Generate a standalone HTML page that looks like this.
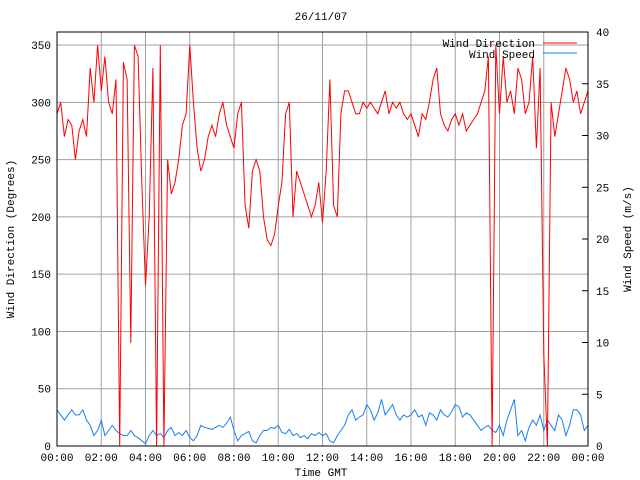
<!DOCTYPE html>
<html><head><meta charset="utf-8"><style>
body{margin:0;background:#fff}
svg{display:block;font-family:"Liberation Mono","DejaVu Sans Mono",monospace;font-size:11px}
</style></head><body>
<svg id="chart" width="640" height="480">
<text x="321" y="20" text-anchor="middle">26/11/07</text>
<text x="321" y="476" text-anchor="middle">Time GMT</text>
<text transform="translate(14,239) rotate(-90)" text-anchor="middle">Wind Direction (Degrees)</text>
<text transform="translate(631,239) rotate(-90)" text-anchor="middle">Wind Speed (m/s)</text>
<g id="grid"></g><g id="ticks"></g>
<path id="spd" fill="none" stroke="#1a80f0" stroke-width="1"/>
<path id="dir" fill="none" stroke="#ff0000" stroke-width="1"/>
<rect x="57" y="32" width="531" height="414" fill="none" stroke="#000"/>
<g>
<text x="535" y="47" text-anchor="end">Wind Direction</text>
<line x1="543" y1="43" x2="577" y2="43" stroke="#ff0000"/>
<text x="535" y="58" text-anchor="end">Wind Speed</text>
<line x1="543" y1="53" x2="577" y2="53" stroke="#1a80f0"/>
</g>
</svg>
<script>
const xTickLabels=["00:00","02:00","04:00","06:00","08:00","10:00","12:00","14:00","16:00","18:00","20:00","22:00","00:00"];
const leftTicks=[0,50,100,150,200,250,300,350];
const rightTicks=[0,5,10,15,20,25,30,35,40];
const direction=[290,300,270,285,280,250, 275,285,270,330,300,350, 310,340,300,290,320,0,
335,320,90,350,340,230, 140,200,330,0,350,0, 250,220,230,250,280,290,
350,300,260,240,250,270, 280,270,290,300,280,270, 260,290,300,210,190,240,
250,240,200,180,175,185, 210,230,290,300,200,240, 230,220,210,200,210,230,
195,240,320,210,200,290, 310,310,300,290,290,300, 295,300,295,290,300,310,
290,300,295,300,290,285, 290,280,270,290,285,300, 320,330,290,280,275,285,
290,280,290,275,280,285, 290,300,310,340,0,350, 290,340,300,310,290,330,
320,290,300,340,260,330, 80,0,300,270,290,310, 330,320,300,310,290,300,310];
const speed=[3.5,3,2.5,3,3.5,3, 3,3.5,2.5,2,1,1.5, 2.5,1,1.5,2,1.5,1.2, 1,1,1.5,1,0.8,0.5,
0.2,1,1.5,1,1.2,0.8, 1.5,1.8,1,1.3,1,1.5, 0.8,0.5,1,2,1.8,1.7, 1.6,1.8,2,1.8,2.2,2.8,
1.5,0.5,1,1.2,1.4,0.5, 0.3,1,1.5,1.5,1.8,1.7, 2,1.3,1.2,1.6,1,1.2, 0.8,1,0.7,1.2,1,1.3,
1,1.2,0.5,0.3,1,1.5, 2,3,3.5,2.5,2.8,3, 4,3.5,2.5,3.2,4.5,3, 3.5,4,3,2.5,3,2.8,
3,3.5,2.8,3,2,3.2, 3,2.5,3.5,3,2.8,3.3, 4,3.8,2.8,3.2,3,2.5, 2,1.5,1.8,2,1.5,1.3,
2,1,2.5,3.5,4.5,1, 1.5,0.5,1.8,2.5,2,3, 1.5,2.5,2,1.5,3,2.5, 1,2,3.5,3.5,3,1.5,2];
const X0=57,X1=588,Y0=446,Y1=32;
const xs=i=>X0+(X1-X0)*i/(direction.length-1);
const yL=v=>Y0-(Y0-Y1)*v/361.4;
const yR=v=>Y0-(Y0-Y1)*v/40;
const NS="http://www.w3.org/2000/svg";
const grid=document.getElementById('grid'),ticks=document.getElementById('ticks');
function mk(p,tag,a){const e=document.createElementNS(NS,tag);for(const k in a)e.setAttribute(k,a[k]);p.appendChild(e);return e;}
xTickLabels.forEach((t,i)=>{const x=X0+(X1-X0)*i/(xTickLabels.length-1);
 if(i>0&&i<xTickLabels.length-1){const g=mk(grid,'line',{x1:x,x2:x,y1:Y1,y2:Y0,stroke:'#a0a0a0'});
 
 }
 const tx=mk(ticks,'text',{x:x,y:461,'text-anchor':'middle'});tx.textContent=t;
 
 });
leftTicks.forEach(v=>{const y=yL(v);
 if(v>0){const g=mk(grid,'line',{x1:X0,x2:X1,y1:y,y2:y,stroke:'#a0a0a0'});
 
 }
 const tx=mk(ticks,'text',{x:51,y:y+4,'text-anchor':'end'});tx.textContent=v;
 
 });
rightTicks.forEach(v=>{const y=yR(v);
 mk(ticks,'line',{x1:X1-6,x2:X1,y1:y,y2:y,stroke:'#000'});
 const tx=mk(ticks,'text',{x:596,y:y+4});tx.textContent=v;
 
 });
document.getElementById('dir').setAttribute('d',direction.map((v,i)=>(i?'L':'M')+xs(i).toFixed(1)+' '+yL(v).toFixed(1)).join(''));
const xs2=i=>X0+(X1-X0)*i/(speed.length-1);
document.getElementById('spd').setAttribute('d',speed.map((v,i)=>(i?'L':'M')+xs2(i).toFixed(1)+' '+yR(v).toFixed(1)).join(''));
</script>
</body></html>
